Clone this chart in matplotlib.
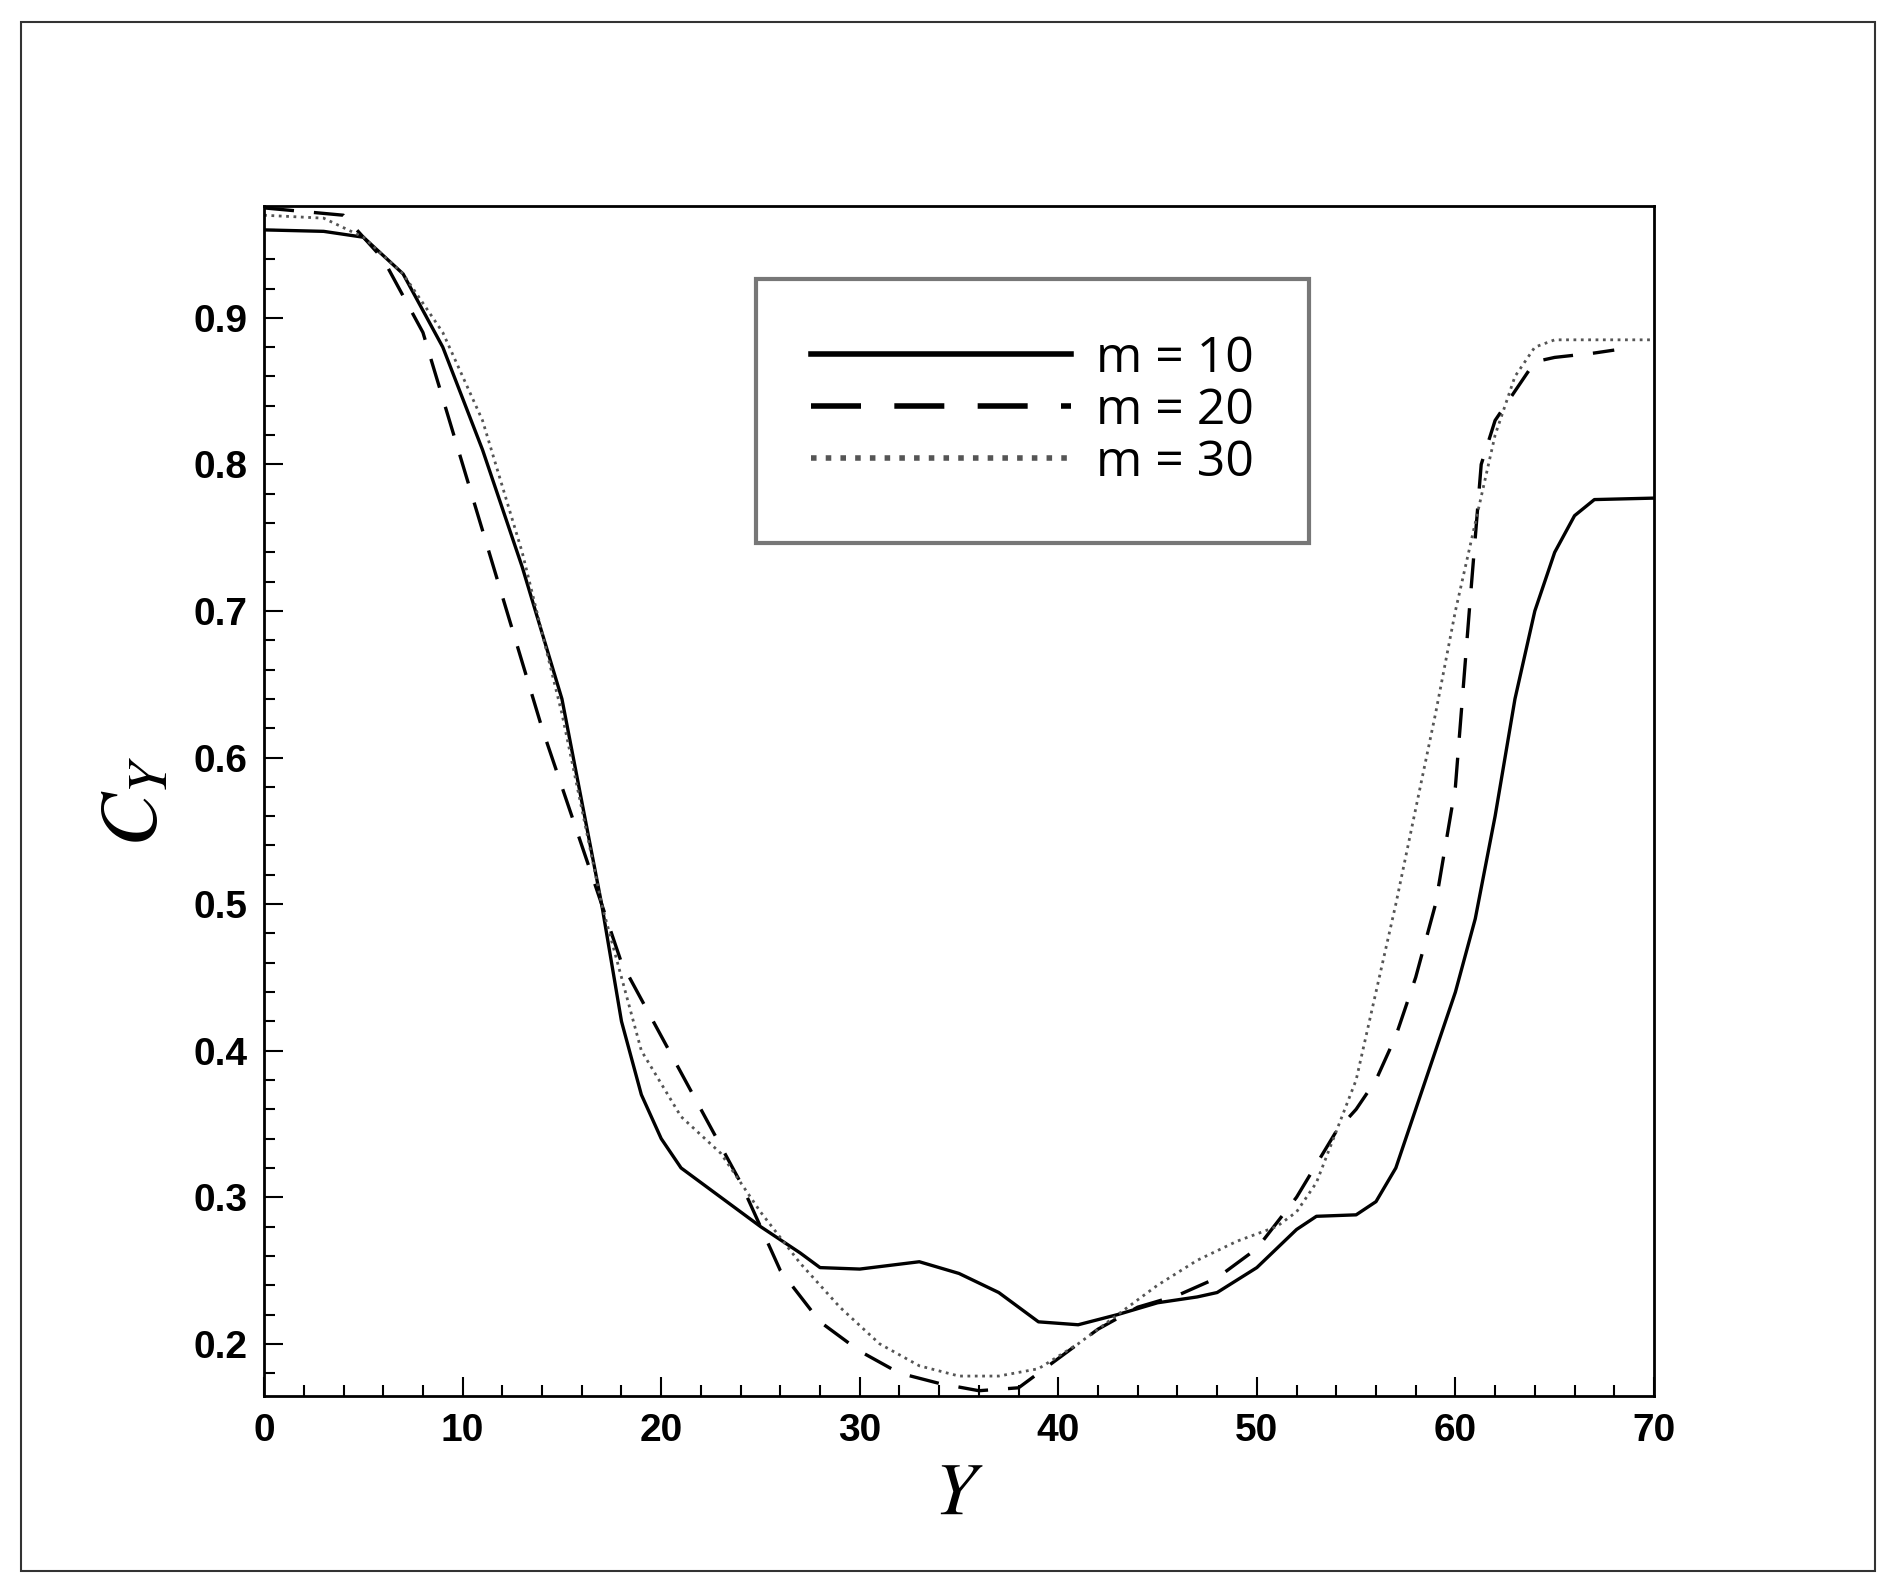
import numpy as np
import matplotlib.pyplot as plt
from matplotlib.ticker import MultipleLocator
from matplotlib.patches import Rectangle

plt.rcParams['mathtext.fontset'] = 'stix'

# values
y_m10 = [0, 3, 5, 7, 9, 11, 13, 15, 16, 17, 18, 19, 20, 21, 23, 25, 27, 28, 30, 33, 35, 37, 39, 41,
         43, 45, 47, 48, 50, 52, 53, 55, 56, 57, 58, 60, 61, 62, 63, 64, 65, 66, 67, 70]
c_m10 = [0.96, 0.959, 0.955, 0.93, 0.88, 0.81, 0.73, 0.64, 0.57, 0.5, 0.42, 0.37, 0.34, 0.32, 0.3,
         0.28, 0.262, 0.252, 0.251, 0.256, 0.248, 0.235, 0.215, 0.213, 0.22, 0.228, 0.232, 0.235,
         0.252, 0.278, 0.287, 0.288, 0.297, 0.32, 0.36, 0.44, 0.49, 0.56, 0.64, 0.7, 0.74, 0.765,
         0.776, 0.777]

y_m20 = [0, 4, 6, 8, 10, 12, 14, 16, 17, 18, 20, 22, 24, 26, 28, 30, 32, 34, 36, 38, 40, 42, 44,
         46, 48, 50, 52, 54, 55, 56, 57, 58, 59, 60, 60.7, 61.3, 62, 63, 64, 65, 67, 68]
c_m20 = [0.975, 0.97, 0.94, 0.89, 0.8, 0.71, 0.62, 0.54, 0.5, 0.46, 0.41, 0.36, 0.31, 0.25, 0.215,
         0.195, 0.18, 0.173, 0.168, 0.17, 0.19, 0.21, 0.225, 0.233, 0.245, 0.265, 0.3, 0.345, 0.36,
         0.38, 0.41, 0.45, 0.5, 0.58, 0.7, 0.8, 0.83, 0.85, 0.87, 0.873, 0.876, 0.878]

y_m30 = [0, 3, 5, 7, 9, 11, 13, 15, 17, 19, 21, 23, 25, 27, 29, 31, 33, 35, 37, 39, 41, 43, 45,
         47, 49, 51, 52, 53, 55, 57, 59, 60, 61, 62, 63, 64, 65, 70]
c_m30 = [0.97, 0.968, 0.955, 0.93, 0.89, 0.83, 0.74, 0.63, 0.5, 0.4, 0.355, 0.33, 0.29, 0.255,
         0.225, 0.2, 0.185, 0.178, 0.178, 0.183, 0.2, 0.22, 0.24, 0.257, 0.27, 0.28, 0.29, 0.31,
         0.38, 0.5, 0.63, 0.7, 0.76, 0.82, 0.86, 0.88, 0.885, 0.885]

fig = plt.figure(figsize=(19, 15.88), dpi=100)
fig.patches.append(Rectangle((0.011, 0.011), 0.976, 0.975, transform=fig.transFigure,
                             fill=False, edgecolor='#333333', lw=1.5))
ax = fig.add_axes([0.139, 0.121, 0.7315, 0.749])

ax.plot(y_m10, c_m10, color='black', lw=2.4, label='m = 10')
ax.plot(y_m20, c_m20, color='black', lw=2.4, dashes=(9, 6), label='m = 20')
ax.plot(y_m30, c_m30, color='#555555', lw=2.0, ls=':', label='m = 30')

ax.set_xlim(0, 70)
ax.set_ylim(0.1645, 0.976)
ax.xaxis.set_major_locator(MultipleLocator(10))
ax.xaxis.set_minor_locator(MultipleLocator(2))
ax.yaxis.set_major_locator(MultipleLocator(0.1))
ax.yaxis.set_minor_locator(MultipleLocator(0.02))
ax.tick_params(which='both', direction='in', top=False, right=False, width=1.5)
ax.tick_params(which='major', length=14, labelsize=28, pad=12)
ax.tick_params(which='minor', length=8)
for lab in ax.get_xticklabels() + ax.get_yticklabels():
    lab.set_fontfamily('Liberation Sans')
    lab.set_fontweight('bold')
for s in ax.spines.values():
    s.set_linewidth(2)

ax.set_xlabel('$Y$', fontsize=54, labelpad=6)
ax.set_ylabel('$C_Y$', fontsize=58, labelpad=14)

leg = ax.legend(loc='upper left', bbox_to_anchor=(0.336, 0.96), frameon=True,
                fancybox=False, handlelength=5.2, borderpad=1.1, labelspacing=0.05,
                handletextpad=0.5, prop={'family': 'Open Sans', 'size': 36})
leg.get_frame().set_edgecolor('#555555')
leg.get_frame().set_linewidth(3)
for line in leg.get_lines():
    line.set_linewidth(4)

fig.savefig('out.png', dpi=100)
